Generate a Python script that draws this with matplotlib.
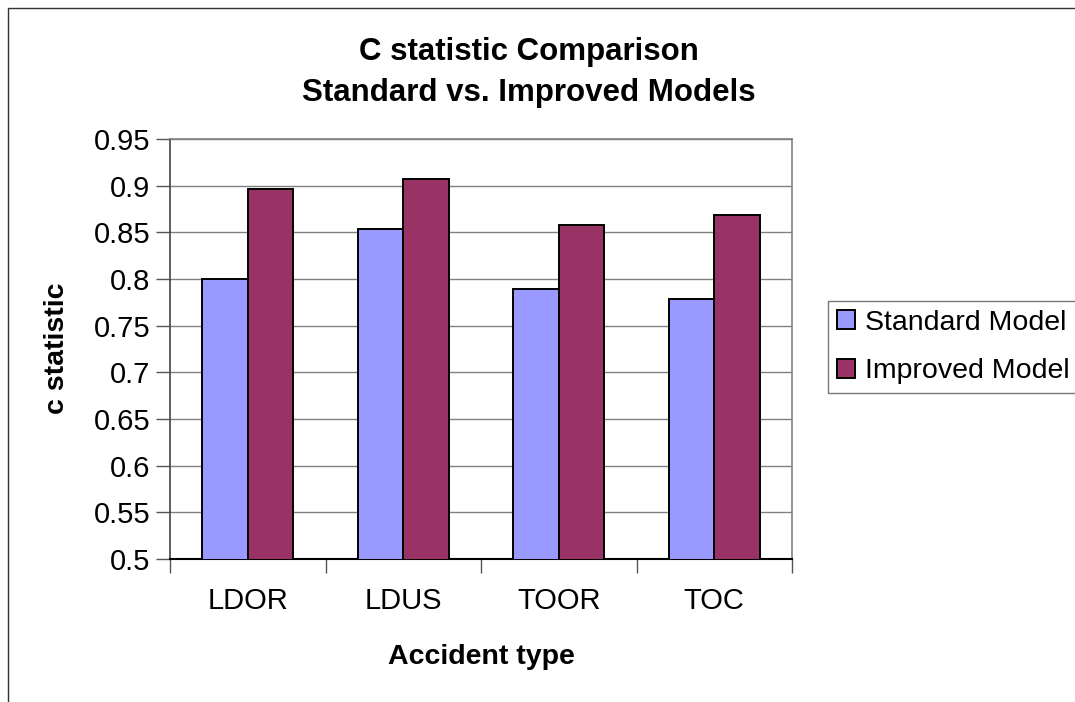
import numpy as np
import matplotlib
matplotlib.use("Agg")
import matplotlib.pyplot as plt
from matplotlib.patches import Rectangle

plt.rcParams['font.family'] = ['Liberation Sans', 'DejaVu Sans']

# values
categories = ['LDOR', 'LDUS', 'TOOR', 'TOC']
standard_model = [0.800, 0.854, 0.789, 0.779]
improved_model = [0.896, 0.907, 0.858, 0.869]
y_ticks = [0.5, 0.55, 0.6, 0.65, 0.7, 0.75, 0.8, 0.85, 0.9, 0.95]

W, H = 1075, 702
fig = plt.figure(figsize=(W / 100, H / 100), dpi=100)

# outer chart border (runs off the right and bottom edges like the source)
fig.patches.append(Rectangle((7.5 / W, -0.05), 1.2, 1 - 8 / H + 0.05,
                             transform=fig.transFigure, fill=False,
                             edgecolor='#333333', linewidth=1.0))

ax = fig.add_axes([170 / W, 1 - 559 / H, (792 - 170) / W, (559 - 139) / H])

x = np.arange(len(categories))
w = 0.293
ax.bar(x - w / 2, standard_model, w, color='#9999FF', edgecolor='black',
       linewidth=1.4, label='Standard Model', zorder=3)
ax.bar(x + w / 2, improved_model, w, color='#993366', edgecolor='black',
       linewidth=1.4, label='Improved Model', zorder=3)

ax.set_ylim(0.5, 0.95)
ax.set_xlim(-0.5, len(categories) - 0.5)
ax.set_yticks(y_ticks)
ax.set_yticklabels([f'{t:g}' for t in y_ticks])
ax.yaxis.grid(True, color='#808080', linewidth=1.0, zorder=0)

# Excel style: ticks between categories, labels centered
ax.set_xticks(np.arange(len(categories) + 1) - 0.5)
ax.set_xticklabels([])
ax.set_xticks(x, minor=True)
ax.set_xticklabels(categories, minor=True)
ax.tick_params(axis='x', which='minor', length=0, pad=20, labelsize=21)
ax.tick_params(axis='x', which='major', length=10, width=1.0, color='#555555')
ax.tick_params(axis='y', length=10, width=1.0, color='#555555', labelsize=21, pad=4)

for s in ['top', 'right']:
    ax.spines[s].set_color('#808080')
    ax.spines[s].set_linewidth(1.2)
ax.spines['left'].set_color('#444444')
ax.spines['bottom'].set_color('black')
ax.spines['left'].set_linewidth(1.2)
ax.spines['bottom'].set_linewidth(1.5)

fig.text(529 / W, 1 - 52 / H, 'C statistic Comparison', ha='center', va='center',
         fontsize=22.5, fontweight='bold')
fig.text(529 / W, 1 - 93 / H, 'Standard vs. Improved Models', ha='center', va='center',
         fontsize=22.5, fontweight='bold')
fig.text(481 / W, 1 - 657 / H, 'Accident type', ha='center', va='center',
         fontsize=20.5, fontweight='bold')
fig.text(57 / W, 1 - 348 / H, 'c statistic', ha='center', va='center',
         fontsize=20.5, fontweight='bold', rotation=90)

leg = fig.legend(loc='upper left', bbox_to_anchor=(828 / W, 1 - 301 / H),
                 fontsize=20.5, frameon=True, fancybox=False, borderaxespad=0,
                 handlelength=0.65, handleheight=0.65, handletextpad=0.35,
                 borderpad=0.3, labelspacing=0.8)
leg.get_frame().set_edgecolor('#555555')
leg.get_frame().set_linewidth(1.0)

fig.savefig('out.png', dpi=100)
